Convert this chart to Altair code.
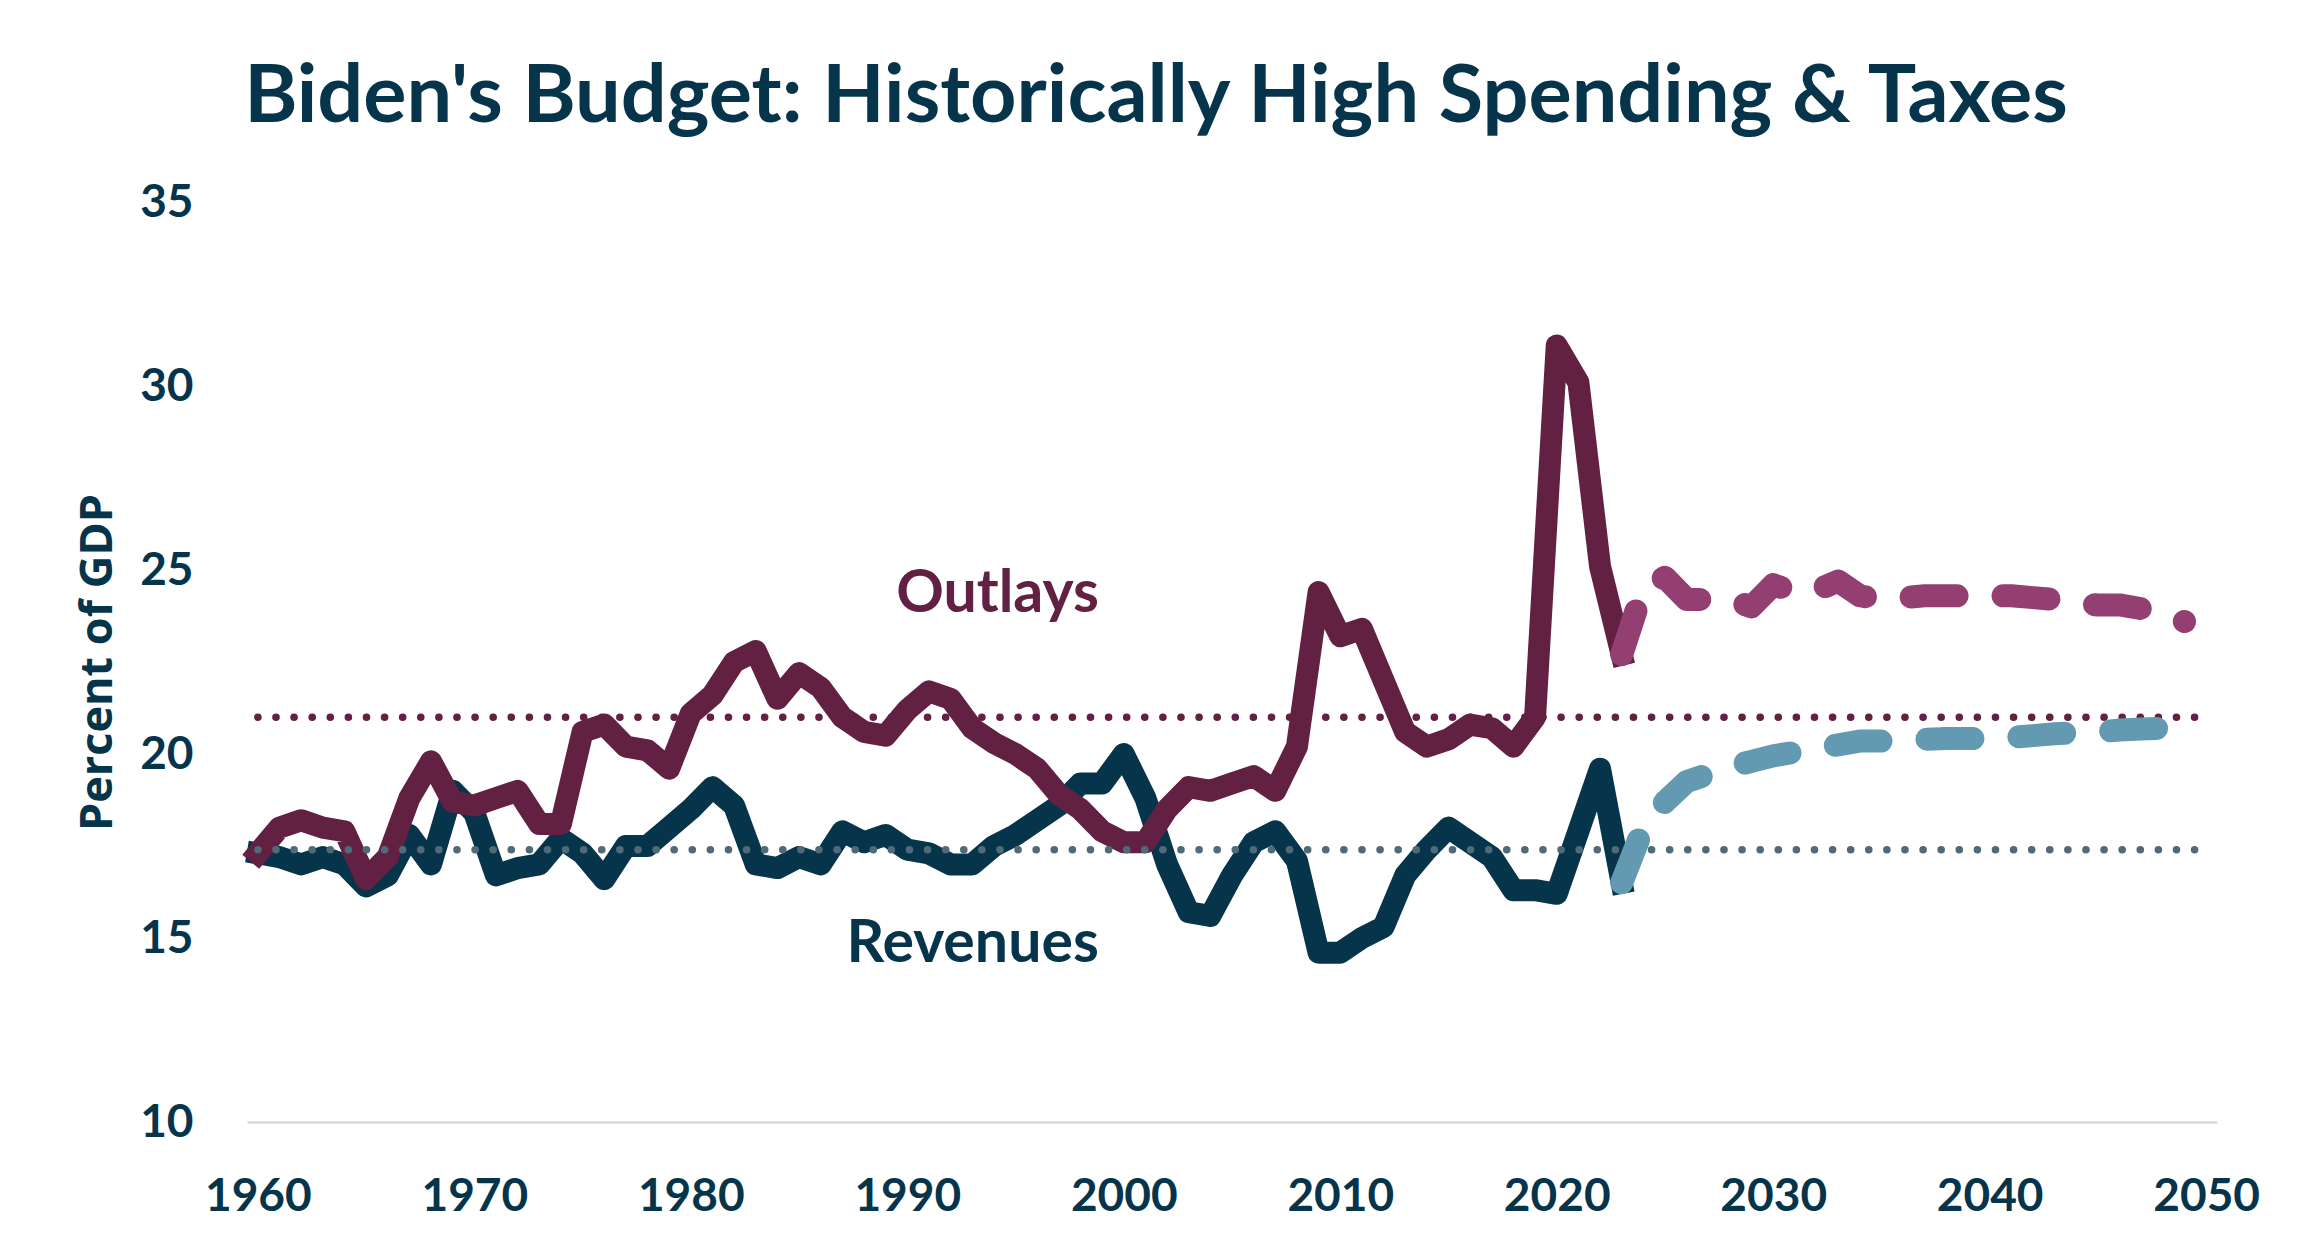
import altair as alt
import pandas as pd

# ---------------- data ----------------
years_hist = list(range(1960, 2024))
outlays_hist = [17.3, 18.0, 18.2, 18.0, 17.9, 16.6, 17.2, 18.8, 19.8, 18.7,
                18.6, 18.8, 19.0, 18.1, 18.1, 20.6, 20.8, 20.2, 20.1, 19.6,
                21.1, 21.6, 22.5, 22.8, 21.5, 22.2, 21.8, 21.0, 20.6, 20.5,
                21.2, 21.7, 21.5, 20.7, 20.3, 20.0, 19.6, 18.9, 18.5, 17.9,
                17.6, 17.6, 18.5, 19.1, 19.0, 19.2, 19.4, 19.0, 20.2, 24.4,
                23.2, 23.4, 22.0, 20.6, 20.2, 20.4, 20.8, 20.7, 20.2, 21.0,
                31.1, 30.1, 25.1, 22.7]
revenues_hist = [17.3, 17.2, 17.0, 17.2, 17.0, 16.4, 16.7, 17.8, 17.0, 19.0,
                 18.4, 16.7, 16.9, 17.0, 17.7, 17.3, 16.6, 17.5, 17.5, 18.0,
                 18.5, 19.1, 18.6, 17.0, 16.9, 17.2, 17.0, 17.9, 17.6, 17.8,
                 17.4, 17.3, 17.0, 17.0, 17.5, 17.8, 18.2, 18.6, 19.2, 19.2,
                 20.0, 18.8, 17.0, 15.7, 15.6, 16.7, 17.6, 17.9, 17.1, 14.6,
                 14.6, 15.0, 15.3, 16.7, 17.4, 18.0, 17.6, 17.2, 16.3, 16.3,
                 16.2, 17.9, 19.6, 16.5]

years_proj = list(range(2023, 2050))
outlays_proj = [22.7, 24.5, 24.8, 24.2, 24.2, 24.2, 24.0, 24.6, 24.4, 24.45,
                24.7, 24.3, 24.2, 24.25, 24.3, 24.3, 24.3, 24.3, 24.3, 24.25,
                24.2, 24.1, 24.05, 24.05, 23.95, 23.8, 23.6]
revenues_proj = [16.5, 18.0, 18.7, 19.25, 19.45, 19.65, 19.8, 19.95, 20.05, 20.15,
                 20.25, 20.35, 20.35, 20.37, 20.4, 20.42, 20.42, 20.42, 20.45, 20.5,
                 20.55, 20.58, 20.6, 20.65, 20.68, 20.7, 20.72]

avg_names = ["Outlays average", "Revenues average"]
avg_values = [21.0, 17.4]
avg_start = [1960, 1960]
avg_end = [2050, 2050]

label_texts = ["Outlays", "Revenues"]
label_years = [1998.85, 1998.85]
label_values = [23.86, 14.35]

x_ticks = [1960, 1970, 1980, 1990, 2000, 2010, 2020, 2030, 2040, 2050]
y_ticks = [10, 15, 20, 25, 30, 35]

title_text = "Biden's Budget: Historically High Spending & Taxes"
y_title = "Percent of GDP"

# ---------------- styling ----------------
NAVY = "#06344b"
MAROON = "#622143"
MAGENTA = "#943f72"
LIGHTBLUE = "#639ab1"
DOTGRAY = "#4f6a78"
GRID = "#d9d9d9"

out_hist_df = pd.DataFrame({"year": years_hist, "value": outlays_hist})
rev_hist_df = pd.DataFrame({"year": years_hist, "value": revenues_hist})
out_proj_df = pd.DataFrame({"year": years_proj, "value": outlays_proj})
rev_proj_df = pd.DataFrame({"year": years_proj, "value": revenues_proj})
avg_df = pd.DataFrame({"name": avg_names, "value": avg_values,
                       "start": avg_start, "end": avg_end,
                       "color": [MAROON, DOTGRAY]})
lab_df = pd.DataFrame({"text": label_texts, "year": label_years,
                       "value": label_values, "color": [MAROON, NAVY]})

xscale = alt.Scale(domain=[1959.5, 2050.5], nice=False, zero=False)
yscale = alt.Scale(domain=[10, 35], nice=False, zero=False)

xaxis = alt.Axis(values=x_ticks, format="d", title=None, grid=False,
                 ticks=False, tickSize=0, domain=True, domainColor=GRID,
                 domainWidth=2.7, labelFont="Lato", labelFontSize=46,
                 labelFontWeight="bold", labelColor=NAVY, labelPadding=88,
                 labelBaseline="alphabetic", labelFlush=False, labelOverlap=False)
yaxis = alt.Axis(values=y_ticks, format="d", title=y_title, grid=False,
                 ticks=False, tickSize=0, domain=False, labelFont="Lato",
                 labelFontSize=46, labelFontWeight="bold", labelColor=NAVY,
                 labelPadding=54, labelAlign="right", labelBaseline="middle",
                 labelFlush=False, labelOverlap=False,
                 titleFont="Open Sans", titleFontSize=45, titleFontWeight="bold",
                 titleColor=NAVY, titleAngle=270, titleX=-136, titleY=460,
                 titleAlign="center", titleBaseline="alphabetic")

X = alt.X("year:Q", scale=xscale, axis=xaxis)
Y = alt.Y("value:Q", scale=yscale, axis=yaxis)

rev_line = alt.Chart(rev_hist_df).mark_line(
    color=NAVY, strokeWidth=22, strokeCap="square", strokeJoin="round"
).encode(x=X, y=Y)
out_line = alt.Chart(out_hist_df).mark_line(
    color=MAROON, strokeWidth=22, strokeCap="square", strokeJoin="round"
).encode(x=X, y=Y)

avg_rules = alt.Chart(avg_df).mark_rule(
    strokeWidth=7.5, strokeDash=[0.1, 18], strokeCap="round"
).encode(x=alt.X("start:Q", scale=xscale, axis=xaxis), x2="end:Q",
         y=alt.Y("value:Q", scale=yscale, axis=yaxis),
         color=alt.Color("color:N", scale=None))

rev_proj = alt.Chart(rev_proj_df).mark_line(
    color=LIGHTBLUE, strokeWidth=23, strokeCap="round", strokeJoin="round",
    strokeDash=[46, 46]
).encode(x=X, y=Y)
out_proj = alt.Chart(out_proj_df).mark_line(
    color=MAGENTA, strokeWidth=23, strokeCap="round", strokeJoin="round",
    strokeDash=[46, 46]
).encode(x=X, y=Y)

labels = alt.Chart(lab_df).mark_text(
    align="right", baseline="alphabetic", font="Lato", fontSize=59,
    fontWeight="bold"
).encode(x=alt.X("year:Q", scale=xscale, axis=xaxis),
         y=alt.Y("value:Q", scale=yscale, axis=yaxis),
         text="text:N", color=alt.Color("color:N", scale=None))

chart = alt.layer(
    rev_line, out_line, avg_rules, rev_proj, out_proj, labels
).properties(
    width=1970, height=920,
    padding={"left": 239, "top": 194, "right": 80, "bottom": 110},
    autosize=alt.AutoSizeParams(type="none"),
    title=alt.TitleParams(text=title_text, font="Lato", fontSize=81,
                          fontWeight="bold", color=NAVY, anchor="middle",
                          dx=-76, dy=82, baseline="alphabetic", offset=58),
    background="white",
).configure_view(stroke=None)

chart.save("out.html", embed_options={"renderer": "svg", "actions": False})
